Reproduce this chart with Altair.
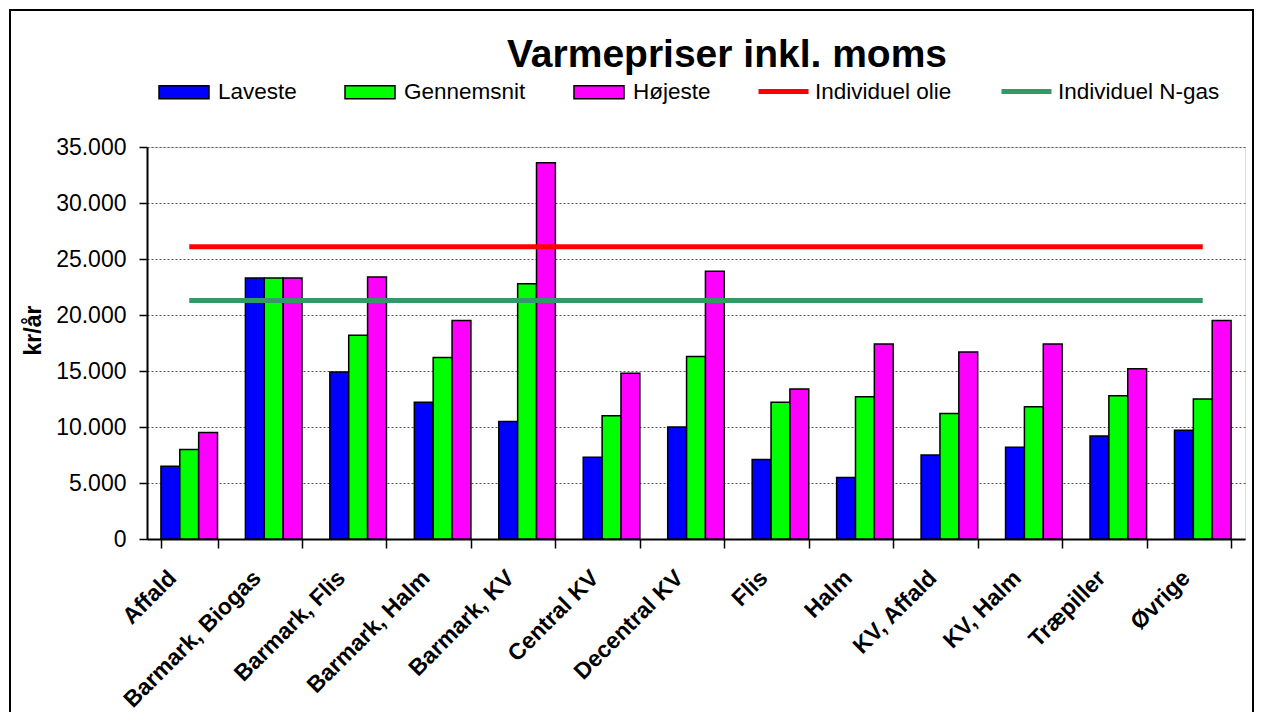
import altair as alt
import pandas as pd

categories = ["Affald", "Barmark, Biogas", "Barmark, Flis", "Barmark, Halm", "Barmark, KV",
              "Central KV", "Decentral KV", "Flis", "Halm", "KV, Affald", "KV, Halm",
              "Træpiller", "Øvrige"]
laveste = [6500, 23300, 14900, 12200, 10500, 7300, 10000, 7100, 5500, 7500, 8200, 9200, 9700]
gennemsnit = [8000, 23300, 18200, 16200, 22800, 11000, 16300, 12200, 12700, 11200, 11800, 12800, 12500]
hoejeste = [9500, 23300, 23400, 19500, 33600, 14800, 23900, 13400, 17400, 16700, 17400, 15200, 19500]
olie = 26100
ngas = 21300

bar_series = ["Laveste", "Gennemsnit", "Højeste"]
bar_colors = ["#0000FF", "#00FF00", "#FF00FF"]
line_series = ["Individuel olie", "Individuel N-gas"]
line_colors = ["#FF0000", "#339966"]

rows = []
for s, vals in zip(bar_series, [laveste, gennemsnit, hoejeste]):
    for c, v in zip(categories, vals):
        rows.append({"kategori": c, "serie": s, "vaerdi": v})
bars_df = pd.DataFrame(rows)

lrows = []
for s, v in zip(line_series, [olie, ngas]):
    for c in categories:
        lrows.append({"kategori": c, "serie": s, "vaerdi": v})
lines_df = pd.DataFrame(lrows)

FONT = "Liberation Sans"

x_enc = alt.X(
    "kategori:N", sort=categories, title=None,
    scale=alt.Scale(paddingInner=0.33, paddingOuter=0.165),
    axis=alt.Axis(labelAngle=-45, labelAlign="right", labelBaseline="alphabetic",
                  labelFont=FONT, labelFontSize=23, labelFontWeight="bold", labelColor="black",
                  labelPadding=31, labelOffset=-12, labelLimit=400,
                  tickBand="extent", tickSize=9, tickWidth=1.5, tickColor="black",
                  domainColor="black", domainWidth=2, grid=False),
)
y_enc = alt.Y(
    "vaerdi:Q",
    scale=alt.Scale(domain=[0, 35000], nice=False),
    axis=alt.Axis(values=list(range(0, 35001, 5000)), title="kr/år",
                  labelExpr="replace(format(datum.value, ','), ',', '.')",
                  labelFont=FONT, labelFontSize=23, labelColor="black", labelPadding=13,
                  tickSize=8, tickWidth=1.5, tickColor="black",
                  domainColor="black", domainWidth=2,
                  grid=True, gridColor="#555555", gridDash=[2, 2], gridWidth=1,
                  titleFont=FONT, titleFontSize=23, titleFontWeight="bold", titleColor="black",
                  titleAngle=-90, titleX=-114, titleY=183, titleAlign="center",
                  titleBaseline="middle"),
)

bars = alt.Chart(bars_df).mark_bar(stroke="black", strokeWidth=1.5).encode(
    x=x_enc,
    xOffset=alt.XOffset("serie:N", sort=bar_series),
    y=y_enc,
    fill=alt.Fill("serie:N", scale=alt.Scale(domain=bar_series, range=bar_colors),
                  legend=alt.Legend(title=None, orient="none", legendX=11, legendY=-81,
                                    direction="horizontal", padding=0,
                                    symbolType="M-1,-0.26H1V0.26H-1Z", symbolSize=2500,
                                    symbolStrokeColor="black", symbolStrokeWidth=1.5,
                                    symbolOpacity=1, labelLimit=400,
                                    labelFont=FONT, labelFontSize=22.5, labelColor="black",
                                    labelOffset=8, columnPadding=45)),
)

lines = alt.Chart(lines_df).mark_line(strokeWidth=5).encode(
    x=alt.X("kategori:N", sort=categories),
    y=alt.Y("vaerdi:Q"),
    stroke=alt.Stroke("serie:N", scale=alt.Scale(domain=line_series, range=line_colors),
                      legend=alt.Legend(title=None, orient="none", legendX=609, legendY=-83,
                                        direction="horizontal", padding=0,
                                        symbolType="stroke", symbolSize=2500,
                                        symbolStrokeWidth=5, labelLimit=400,
                                        labelFont=FONT, labelFontSize=22.5, labelColor="black",
                                        labelOffset=4, columnPadding=39)),
)

frame = alt.Chart(alt.Data(values=[{"f": 1}])).mark_rect(
    fill="transparent", stroke="black", strokeWidth=2, clip=False
).encode(
    x=alt.value(-137), x2=alt.value(1106), y=alt.value(-137), y2=alt.value(700)
)

chart = alt.layer(bars, lines, frame).properties(
    width=1098, height=392,
    padding={"left": 139, "top": 139, "right": 10, "bottom": 173},
    autosize=alt.AutoSizeParams(type="none"),
    title=alt.TitleParams("Varmepriser inkl. moms", font=FONT, fontSize=39, fontWeight="bold",
                          color="black", anchor="middle", dx=31, dy=66, offset=0, frame="group"),
).resolve_scale(fill="independent", stroke="independent").configure_view(
    stroke="black", strokeWidth=1
).configure(background="white")

chart.save("out.html", embed_options={"renderer": "svg", "actions": False})
